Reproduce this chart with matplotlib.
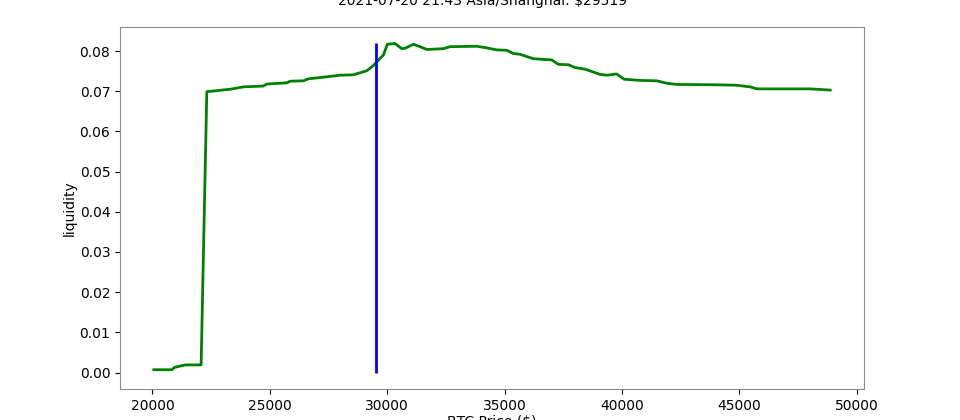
import numpy as np
import matplotlib
matplotlib.use("Agg")
import matplotlib.pyplot as plt
from matplotlib.ticker import MultipleLocator

# Liquidity curve
price = [20060, 20826, 20950, 21400, 22075, 22317, 23309, 23876, 24727, 24870,
         25722, 25865, 26431, 26644, 27427, 27994, 28561, 29131, 29412, 29697,
         29838, 30009, 30336, 30621, 30762, 31116, 31401, 31686, 32394, 32679,
         33815, 34241, 34667, 35093, 35375, 35660, 36227, 37010, 37290, 37717,
         38003, 38428, 39067, 39352, 39778, 40090, 40771, 41482, 41908, 42334,
         44178, 44889, 45456, 45741, 48010, 48870]
liquidity = [0.0007, 0.0007, 0.0013, 0.0019, 0.0019, 0.0699, 0.0705, 0.0711, 0.0713, 0.0718,
             0.0721, 0.0725, 0.0726, 0.0731, 0.0736, 0.0740, 0.0741, 0.0751, 0.0764, 0.0782,
             0.0790, 0.0817, 0.0819, 0.0806, 0.0807, 0.0817, 0.0811, 0.0804, 0.0806, 0.0811,
             0.0812, 0.0808, 0.0803, 0.0802, 0.0794, 0.0792, 0.0781, 0.0778, 0.0767, 0.0766,
             0.0759, 0.0755, 0.0742, 0.0740, 0.0743, 0.0730, 0.0727, 0.0726, 0.0720, 0.0717,
             0.0716, 0.0715, 0.0711, 0.0706, 0.0706, 0.0703]
current_price = 29519
title = '2021-07-20 21:43 Asia/Shanghai: $29519'
fs = 10

fig = plt.figure(figsize=[9.6, 4.2], dpi=100)
ax = fig.add_axes([120/960, 1 - 389/420, 744/960, 362/420])

ax.plot(price, liquidity, color='green', lw=2)
ax.vlines(current_price, 0, max(liquidity), color='blue', lw=2)

# title sits at the very top, partly cut like the reference
fig.text(0.503, 0.9874, title, ha='center', va='baseline', fontsize=fs)
ax.set_xlabel('BTC Price ($)', fontsize=fs, labelpad=1.5)
ax.set_ylabel('liquidity', fontsize=fs, labelpad=2)
ax.yaxis.set_major_locator(MultipleLocator(0.01))
ax.tick_params(labelsize=fs)
for s in ax.spines.values():
    s.set_color('0.55')

plt.savefig("out.png", dpi=100)
